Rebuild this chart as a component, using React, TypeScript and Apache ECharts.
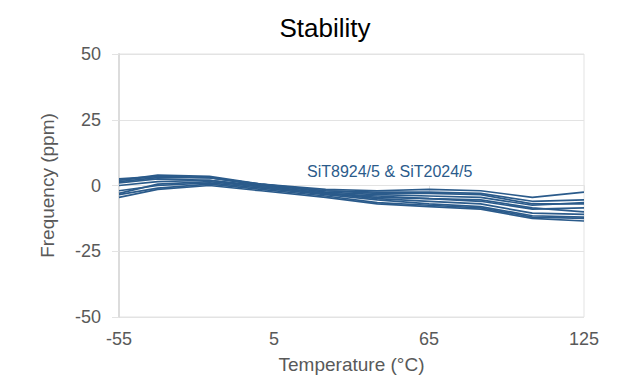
import React, { useEffect, useRef } from "react";
import * as echarts from "echarts";

const temperatures = [-55, -40, -20, 0, 25, 45, 65, 85, 105, 125];
const xTickLabels = [-55, 5, 65, 125];
const yTicks = [-50, -25, 0, 25, 50];

const curve1 = [2, 4, 3.5, 0.5, -1.5, -2, -1.5, -2, -4.5, -2.5];
const curve2 = [2.5, 3.5, 3, 0, -2, -2.5, -2.5, -3, -6, -5.5];
const curve3 = [1.5, 3, 3, 0.5, -2.5, -3.5, -4, -4.5, -7.5, -6.5];
const curve4 = [1, 2.5, 2, 0, -3, -4.5, -5, -6, -9, -8.5];
const curve5 = [0, 1.5, 2, -0.5, -3, -5, -6, -7, -10.5, -11];
const curve6 = [-2, 0, 1, -1, -3.5, -5.5, -7, -8, -11.5, -12];
const curve7 = [-3.5, -1, 0.5, -1.5, -4, -6.5, -7.5, -8.5, -12, -12.5];
const curve8 = [-4.5, -1.5, 0, -2, -4.5, -7, -8, -9, -12.5, -13.5];
const curve9 = [-3, 0.5, 1.5, -0.5, -3, -4, -5, -5.5, -8.5, -10];
const curve10 = [2, 3.5, 3, 0.5, -2, -3, -3, -3.5, -7, -7];

const curves = [curve1, curve2, curve3, curve4, curve5, curve6, curve7, curve8, curve9, curve10];

const X_OFFSET = 55;
const LINE_COLOR = "#2B5B8B";
const GRID_COLOR = "#e3e3e3";
const LABEL_COLOR = "#595959";
const FONT = "'Liberation Sans', Arial, sans-serif";

export default function App() {
  const ref = useRef<HTMLDivElement>(null);
  useEffect(() => {
    if (!ref.current) return;
    const chart = echarts.init(ref.current, undefined, { renderer: "svg" });
    chart.setOption({
      animation: false,
      backgroundColor: "#ffffff",
      title: {
        text: "Stability",
        left: 320,
        top: 10,
        textAlign: "center",
        textStyle: { fontFamily: FONT, fontSize: 26, fontWeight: "normal", color: "#000000" },
      },
      grid: {
        left: 119,
        right: 46,
        top: 54,
        bottom: 66,
        show: true,
        borderColor: GRID_COLOR,
        borderWidth: 1,
      },
      xAxis: {
        type: "value",
        min: 0,
        max: 180,
        interval: 60,
        name: "Temperature (°C)",
        nameLocation: "middle",
        nameGap: 38,
        nameTextStyle: { fontFamily: FONT, fontSize: 19, color: LABEL_COLOR },
        axisLine: { show: true, lineStyle: { color: GRID_COLOR, width: 1 } },
        axisTick: { show: true, length: 6, lineStyle: { color: GRID_COLOR } },
        splitLine: { show: false },
        axisLabel: {
          fontFamily: FONT,
          fontSize: 18,
          color: LABEL_COLOR,
          margin: 13,
          formatter: (v: number) => {
            const t = v - X_OFFSET;
            return xTickLabels.includes(t) ? String(t) : "";
          },
        },
      },
      yAxis: {
        type: "value",
        min: yTicks[0],
        max: yTicks[yTicks.length - 1],
        interval: 25,
        name: "Frequency (ppm)",
        nameLocation: "middle",
        nameGap: 62,
        nameRotate: 90,
        nameTextStyle: { fontFamily: FONT, fontSize: 19, color: LABEL_COLOR },
        axisLine: { show: true, lineStyle: { color: "#dcdcdc", width: 2 } },
        axisTick: { show: true, length: 7, lineStyle: { color: GRID_COLOR } },
        splitLine: { show: true, lineStyle: { color: GRID_COLOR, width: 1 } },
        axisLabel: { fontFamily: FONT, fontSize: 18, color: LABEL_COLOR, margin: 18 },
      },
      graphic: [
        {
          type: "line",
          shape: { x1: 0, y1: 4, x2: 630, y2: 4 },
          style: { stroke: "#e6e6e6", lineWidth: 2 },
        },
        {
          type: "text",
          left: 307,
          top: 163,
          style: {
            text: "SiT8924/5 & SiT2024/5",
            fontFamily: FONT,
            fontSize: 16,
            fill: LINE_COLOR,
          },
        },
      ],
      series: curves.map((c, i) => ({
        type: "line",
        name: "unit" + (i + 1),
        data: temperatures.map((t, j) => [t + X_OFFSET, c[j]]),
        showSymbol: false,
        symbol: "none",
        lineStyle: { color: LINE_COLOR, width: 1.7 },
        silent: true,
      })),
    });
    return () => chart.dispose();
  }, []);
  return <div ref={ref} style={{ width: 630, height: 383, margin: -8 }} />;
}
